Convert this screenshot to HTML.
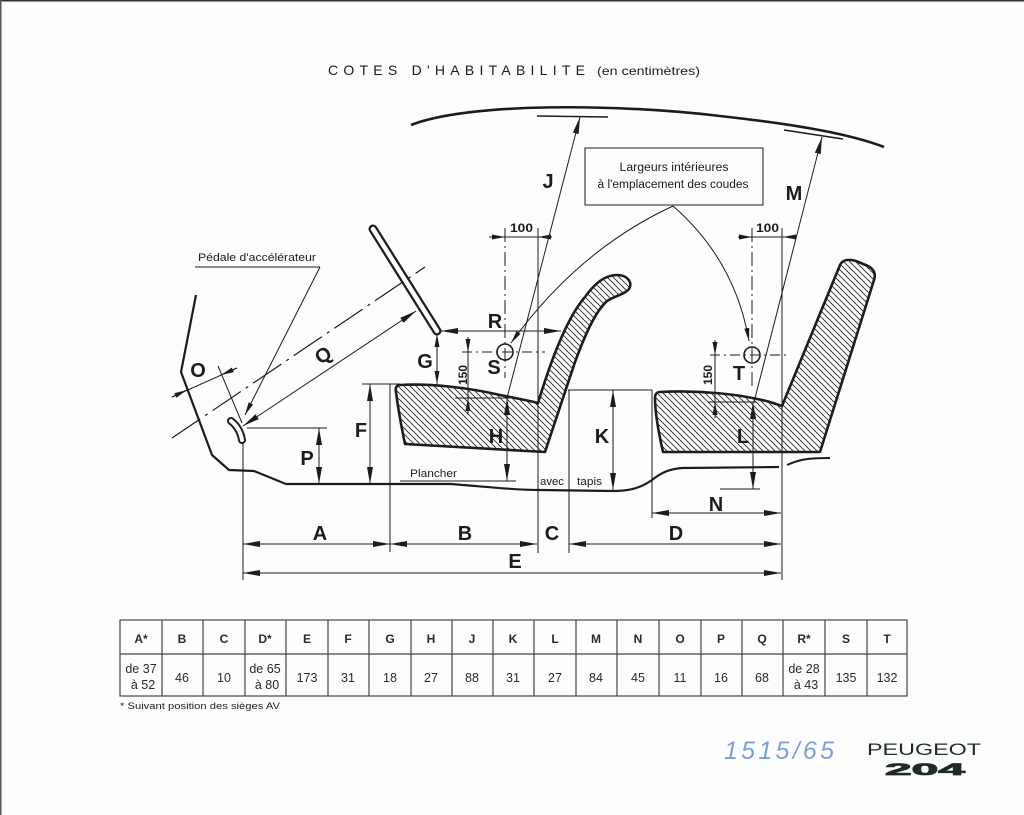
<!DOCTYPE html>
<html><head><meta charset="utf-8">
<style>
html,body{margin:0;padding:0;background:#fdfdfb;}
svg{display:block;}
text{font-family:"Liberation Sans",sans-serif;fill:#1c1c1c;}
.lb{font-weight:bold;font-size:20px;}
.th{font-weight:bold;font-size:12px;fill:#2a2a2a;}
.tv{font-size:12.5px;fill:#2a2a2a;}
</style></head><body>
<svg width="1024" height="815" viewBox="0 0 1024 815" xmlns="http://www.w3.org/2000/svg">
<defs>
<marker id="a" viewBox="0 0 17 6" refX="17" refY="3" markerWidth="17" markerHeight="6" orient="auto-start-reverse" markerUnits="userSpaceOnUse"><path d="M0,0 L17,3 L0,6 z" fill="#1c1c1c"/></marker>
<marker id="s" viewBox="0 0 13 5" refX="13" refY="2.5" markerWidth="13" markerHeight="5" orient="auto-start-reverse" markerUnits="userSpaceOnUse"><path d="M0,0 L13,2.5 L0,5 z" fill="#1c1c1c"/></marker>
<pattern id="h" width="6" height="6" patternUnits="userSpaceOnUse"><path d="M-1,-1 L7,7 M-1,5 L1,7 M5,-1 L7,1" stroke="#2a2a2a" stroke-width="0.9"/></pattern>
</defs>
<rect x="0" y="0" width="1024" height="815" fill="#fdfdfb"/>
<rect x="0" y="0" width="1024" height="1.5" fill="#333"/>
<rect x="0" y="0" width="1.5" height="815" fill="#555"/>

<!-- Title -->
<text x="328" y="75" font-size="14" textLength="257" lengthAdjust="spacing">COTES D'HABITABILITE</text>
<text x="597" y="75" font-size="12" textLength="103" lengthAdjust="spacingAndGlyphs">(en centimètres)</text>

<g stroke="#1c1c1c" fill="none" stroke-width="1">
<!-- roof -->
<path d="M411,125 C 470,102 620,104 720,116 C 800,125 850,134 884,147" stroke-width="2.6"/>
<line x1="537" y1="116" x2="608" y2="117" stroke-width="1.6"/>
<line x1="784" y1="130" x2="843" y2="139" stroke-width="1.6"/>

<!-- seats -->
<path d="M400,385 C 430,383 470,388 500,395 C 520,399 530,401 538,403 C 548,370 565,320 585,297 C 595,283 605,275 617,275 C 628,275 633,283 629,289 C 625,294 615,296 607,301 C 595,312 585,335 575,362 L 545,452 L 405,444 C 400,420 397,400 396,392 C 395,387 397,385 400,385 Z" fill="url(#h)" stroke-width="2.6" stroke-linejoin="round"/>
<path d="M660,392 C 700,390 740,394 770,402 L 782,406 L 840,265 C 843,259 849,259 856,261 L 868,266 C 874,269 876,274 874,280 L 820,452 L 663,452 C 658,430 655,410 655,398 C 655,394 657,392 660,392 Z" fill="url(#h)" stroke-width="2.6" stroke-linejoin="round"/>

<!-- J, M -->
<line x1="507" y1="398" x2="580" y2="117" marker-end="url(#a)"/>
<line x1="754" y1="402" x2="822" y2="137" marker-end="url(#a)"/>

<!-- box -->
<rect x="585" y="148" width="178" height="57" fill="#fdfdfb"/>
<path d="M673,206 Q 578,250 511,343" marker-end="url(#s)"/>
<path d="M673,206 Q 735,260 749,341" marker-end="url(#s)"/>

<!-- S crosshair -->
<circle cx="505" cy="352" r="8" stroke-width="1.6"/>
<line x1="505" y1="228" x2="505" y2="378" stroke-dasharray="14 4 2 4"/>
<line x1="462" y1="352" x2="545" y2="352" stroke-dasharray="10 4 2 4"/>
<line x1="489" y1="237" x2="552" y2="237"/>
<line x1="489" y1="237" x2="505" y2="237" marker-end="url(#s)"/>
<line x1="552" y1="237" x2="538" y2="237" marker-end="url(#s)"/>
<line x1="538" y1="228" x2="538" y2="553"/>

<!-- T crosshair -->
<circle cx="752" cy="355" r="8" stroke-width="1.6"/>
<line x1="752" y1="228" x2="752" y2="390" stroke-dasharray="14 4 2 4"/>
<line x1="710" y1="355" x2="790" y2="355" stroke-dasharray="10 4 2 4"/>
<line x1="738" y1="237" x2="796" y2="237"/>
<line x1="738" y1="237" x2="752" y2="237" marker-end="url(#s)"/>
<line x1="796" y1="237" x2="783" y2="237" marker-end="url(#s)"/>
<line x1="782" y1="228" x2="782" y2="580"/>

<!-- 150 S -->
<line x1="468" y1="337" x2="468" y2="415"/>
<line x1="468" y1="337" x2="468" y2="352" marker-end="url(#s)"/>
<line x1="468" y1="415" x2="468" y2="398" marker-end="url(#s)"/>
<line x1="455" y1="398" x2="510" y2="398"/>
<!-- 150 T -->
<line x1="715" y1="340" x2="715" y2="418"/>
<line x1="715" y1="340" x2="715" y2="355" marker-end="url(#s)"/>
<line x1="715" y1="418" x2="715" y2="402" marker-end="url(#s)"/>
<line x1="708" y1="402" x2="756" y2="402"/>

<!-- H -->
<line x1="507" y1="398" x2="507" y2="481" marker-start="url(#a)" marker-end="url(#a)"/>
<line x1="400" y1="481" x2="516" y2="481"/>
<!-- L -->
<line x1="753" y1="402" x2="753" y2="489" marker-start="url(#a)" marker-end="url(#a)"/>
<line x1="720" y1="489" x2="760" y2="489"/>
<!-- K -->
<line x1="568" y1="390" x2="652" y2="390"/>
<line x1="613" y1="390" x2="613" y2="490" marker-start="url(#a)" marker-end="url(#a)"/>
<line x1="569" y1="390" x2="569" y2="553"/>
<line x1="652" y1="390" x2="652" y2="518"/>

<!-- G, R -->
<line x1="437" y1="334" x2="437" y2="384" marker-start="url(#s)" marker-end="url(#s)"/>
<line x1="441" y1="331" x2="561" y2="331" marker-start="url(#a)" marker-end="url(#a)"/>

<!-- F, P -->
<line x1="362" y1="384" x2="400" y2="384"/>
<line x1="370" y1="384" x2="370" y2="484" marker-start="url(#a)" marker-end="url(#a)"/>
<line x1="247" y1="428" x2="327" y2="428"/>
<line x1="319" y1="428" x2="319" y2="484" marker-start="url(#a)" marker-end="url(#a)"/>

<!-- steering -->
<line x1="373" y1="229" x2="437" y2="331" stroke-width="9" stroke-linecap="round"/>
<line x1="373" y1="229" x2="437" y2="331" stroke-width="4.5" stroke-linecap="round" stroke="#fdfdfb"/>
<line x1="172" y1="438" x2="425" y2="267" stroke-width="1.2" stroke-dasharray="34 6 3 6"/>
<line x1="243" y1="426" x2="416" y2="311" marker-start="url(#a)" marker-end="url(#a)"/>

<!-- pedal -->
<path d="M231,421 Q 240,428 242,440" stroke-width="8" stroke-linecap="round"/>
<path d="M231,421 Q 240,428 242,440" stroke-width="4" stroke-linecap="round" stroke="#fdfdfb"/>
<line x1="195" y1="267" x2="320" y2="267"/>
<line x1="320" y1="267" x2="245" y2="415" marker-end="url(#s)"/>

<!-- O -->
<line x1="172" y1="397" x2="237" y2="368"/>
<line x1="172" y1="397" x2="187" y2="390" marker-end="url(#s)"/>
<line x1="237" y1="368" x2="221" y2="375" marker-end="url(#s)"/>
<line x1="218" y1="366" x2="242" y2="423"/>

<!-- floor / firewall -->
<path d="M196,295 L181,372 L212,455 L229,470 L254,471 L286,484 L450,484 C480,486 510,490 540,490 L612,491 C632,491 642,487 652,480 C662,472 670,469 682,468 L779,467" stroke-width="2.2" stroke-linejoin="round"/>
<path d="M787,465 C798,460 806,458 830,458" stroke-width="2"/>

<!-- bottom dims -->
<line x1="243" y1="443" x2="243" y2="580"/>
<line x1="390" y1="384" x2="390" y2="552"/>
<line x1="243" y1="544" x2="390" y2="544" marker-start="url(#a)" marker-end="url(#a)"/>
<line x1="390" y1="544" x2="537" y2="544" marker-start="url(#a)" marker-end="url(#a)"/>
<line x1="569" y1="544" x2="781" y2="544" marker-start="url(#a)" marker-end="url(#a)"/>
<line x1="243" y1="573" x2="781" y2="573" marker-start="url(#a)" marker-end="url(#a)"/>
<line x1="652" y1="513" x2="781" y2="513" marker-start="url(#a)" marker-end="url(#a)"/>
</g>

<!-- small texts -->
<text x="674" y="171" font-size="11.5" text-anchor="middle" textLength="109" lengthAdjust="spacingAndGlyphs">Largeurs intérieures</text>
<text x="673" y="188" font-size="11.5" text-anchor="middle" textLength="151" lengthAdjust="spacingAndGlyphs">à l'emplacement des coudes</text>
<text x="198" y="261" font-size="11" textLength="118" lengthAdjust="spacingAndGlyphs">Pédale d'accélérateur</text>
<text x="410" y="477" font-size="11" textLength="47" lengthAdjust="spacingAndGlyphs">Plancher</text>
<text x="540" y="485" font-size="11" textLength="24" lengthAdjust="spacingAndGlyphs">avec</text>
<text x="577" y="485" font-size="11" textLength="25" lengthAdjust="spacingAndGlyphs">tapis</text>
<text x="510" y="232" font-size="12" font-weight="bold" textLength="23" lengthAdjust="spacingAndGlyphs">100</text>
<text x="756" y="232" font-size="12" font-weight="bold" textLength="23" lengthAdjust="spacingAndGlyphs">100</text>
<text transform="translate(467,375) rotate(-90)" font-size="12" font-weight="bold" text-anchor="middle">150</text>
<text transform="translate(712,375) rotate(-90)" font-size="12" font-weight="bold" text-anchor="middle">150</text>

<!-- dimension labels -->
<g class="lb" text-anchor="middle">
<text x="548" y="188" class="lb">J</text>
<text x="794" y="200" class="lb">M</text>
<text x="495" y="328" class="lb" font-size="19">R</text>
<text x="494" y="374" class="lb" font-size="19">S</text>
<text x="425" y="368" class="lb" font-size="19">G</text>
<text x="361" y="437" class="lb">F</text>
<text x="307" y="465" class="lb">P</text>
<text x="198" y="377" class="lb" font-size="19">O</text>
<text x="496" y="443" class="lb">H</text>
<text x="602" y="443" class="lb">K</text>
<text x="739" y="380" class="lb" font-size="19">T</text>
<text x="743" y="443" class="lb">L</text>
<text x="716" y="511" class="lb">N</text>
<text x="320" y="540" class="lb">A</text>
<text x="465" y="540" class="lb">B</text>
<text x="552" y="540" class="lb">C</text>
<text x="676" y="540" class="lb">D</text>
<text x="515" y="568" class="lb">E</text>
<text transform="translate(323,355) rotate(-34)" y="7" class="lb">Q</text>
</g>

<!-- table -->
<g stroke="#444" stroke-width="1.2" fill="none">
<rect x="120" y="620" width="787" height="76"/>
<line x1="120" y1="654" x2="907" y2="654"/>
<line x1="162" y1="620" x2="162" y2="696"/>
<line x1="203" y1="620" x2="203" y2="696"/>
<line x1="245" y1="620" x2="245" y2="696"/>
<line x1="286" y1="620" x2="286" y2="696"/>
<line x1="328" y1="620" x2="328" y2="696"/>
<line x1="369" y1="620" x2="369" y2="696"/>
<line x1="411" y1="620" x2="411" y2="696"/>
<line x1="452" y1="620" x2="452" y2="696"/>
<line x1="493" y1="620" x2="493" y2="696"/>
<line x1="534" y1="620" x2="534" y2="696"/>
<line x1="576" y1="620" x2="576" y2="696"/>
<line x1="617" y1="620" x2="617" y2="696"/>
<line x1="659" y1="620" x2="659" y2="696"/>
<line x1="701" y1="620" x2="701" y2="696"/>
<line x1="742" y1="620" x2="742" y2="696"/>
<line x1="783" y1="620" x2="783" y2="696"/>
<line x1="825" y1="620" x2="825" y2="696"/>
<line x1="867" y1="620" x2="867" y2="696"/>
</g>
<g text-anchor="middle">
<text class="th" x="141" y="643">A*</text>
<text class="th" x="182" y="643">B</text>
<text class="th" x="224" y="643">C</text>
<text class="th" x="265" y="643">D*</text>
<text class="th" x="307" y="643">E</text>
<text class="th" x="348" y="643">F</text>
<text class="th" x="390" y="643">G</text>
<text class="th" x="431" y="643">H</text>
<text class="th" x="472" y="643">J</text>
<text class="th" x="513" y="643">K</text>
<text class="th" x="555" y="643">L</text>
<text class="th" x="596" y="643">M</text>
<text class="th" x="638" y="643">N</text>
<text class="th" x="680" y="643">O</text>
<text class="th" x="721" y="643">P</text>
<text class="th" x="762" y="643">Q</text>
<text class="th" x="804" y="643">R*</text>
<text class="th" x="846" y="643">S</text>
<text class="th" x="887" y="643">T</text>

<text class="tv" x="141" y="673">de 37</text>
<text class="tv" x="143" y="689">à 52</text>
<text class="tv" x="182" y="682">46</text>
<text class="tv" x="224" y="682">10</text>
<text class="tv" x="265" y="673">de 65</text>
<text class="tv" x="267" y="689">à 80</text>
<text class="tv" x="307" y="682">173</text>
<text class="tv" x="348" y="682">31</text>
<text class="tv" x="390" y="682">18</text>
<text class="tv" x="431" y="682">27</text>
<text class="tv" x="472" y="682">88</text>
<text class="tv" x="513" y="682">31</text>
<text class="tv" x="555" y="682">27</text>
<text class="tv" x="596" y="682">84</text>
<text class="tv" x="638" y="682">45</text>
<text class="tv" x="680" y="682">11</text>
<text class="tv" x="721" y="682">16</text>
<text class="tv" x="762" y="682">68</text>
<text class="tv" x="804" y="673">de 28</text>
<text class="tv" x="806" y="689">à 43</text>
<text class="tv" x="846" y="682">135</text>
<text class="tv" x="887" y="682">132</text>
</g>
<text x="120" y="709" font-size="9" fill="#333" textLength="160" lengthAdjust="spacingAndGlyphs">* Suivant position des sièges AV</text>

<!-- bottom right -->
<text x="724" y="759" font-family="Liberation Serif" font-style="italic" font-size="25" style="fill:#7a9fe0" textLength="110" lengthAdjust="spacing">1515/65</text>
<text x="867" y="755" font-size="17" style="fill:#1e2b2b" textLength="114" lengthAdjust="spacingAndGlyphs">PEUGEOT</text>
<text x="885" y="775" font-size="17" font-weight="bold" style="fill:#1e2b2b" stroke="#1e2b2b" stroke-width="0.8" textLength="80" lengthAdjust="spacingAndGlyphs">204</text>
</svg>
</body></html>
